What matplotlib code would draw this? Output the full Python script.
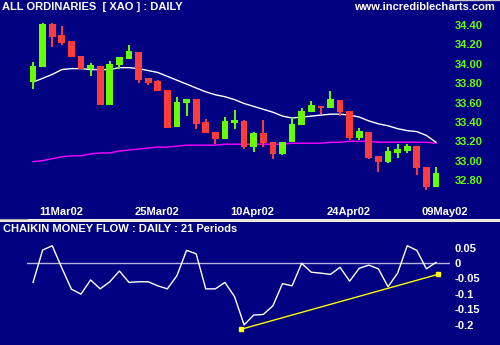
import numpy as np
import matplotlib
matplotlib.use('Agg')
import matplotlib.pyplot as plt
import matplotlib.transforms as mtransforms

# daily OHLC, 7 Mar 2002 .. 9 May 2002 (43 trading days)
opens = [33.81, 33.97, 34.41, 34.30, 34.23, 34.08, 33.95, 33.98, 33.57, 33.99,
         34.05, 34.12, 33.85, 33.82, 33.73, 33.35, 33.60, 33.64, 33.40, 33.30,
         33.22, 33.39, 33.41, 33.14, 33.29, 33.19, 33.07, 33.19, 33.37, 33.50,
         33.56, 33.54, 33.63, 33.51, 33.23, 33.30, 33.05, 32.99, 33.08, 33.10,
         33.15, 32.93, 32.73]
highs = [34.02, 34.42, 34.42, 34.39, 34.24, 34.08, 34.01, 33.98, 34.03, 34.07,
         34.19, 34.12, 33.85, 33.83, 33.73, 33.66, 33.64, 33.64, 33.43, 33.30,
         33.45, 33.52, 33.42, 33.30, 33.42, 33.19, 33.19, 33.45, 33.54, 33.62,
         33.56, 33.72, 33.63, 33.51, 33.34, 33.30, 33.05, 33.14, 33.17, 33.17,
         33.15, 32.93, 32.93]
lows = [33.74, 33.97, 34.17, 34.19, 34.07, 33.95, 33.87, 33.57, 33.57, 33.95,
        34.05, 33.80, 33.78, 33.72, 33.34, 33.35, 33.46, 33.33, 33.29, 33.17,
        33.22, 33.33, 33.12, 33.09, 33.14, 33.02, 33.06, 33.19, 33.37, 33.50,
        33.48, 33.54, 33.46, 33.21, 33.21, 33.02, 32.88, 32.98, 33.03, 33.08,
        32.85, 32.70, 32.73]
closes = [33.98, 34.41, 34.28, 34.21, 34.07, 33.95, 33.99, 33.57, 34.00, 34.07,
          34.13, 33.83, 33.80, 33.72, 33.34, 33.61, 33.64, 33.38, 33.29, 33.22,
          33.41, 33.41, 33.14, 33.29, 33.18, 33.07, 33.19, 33.38, 33.51, 33.57,
          33.54, 33.64, 33.50, 33.23, 33.31, 33.03, 32.99, 33.10, 33.12, 33.15,
          32.92, 32.73, 32.87]

# moving averages
ma_short = [33.81, 33.85, 33.89, 33.94, 33.95, 33.95, 33.94, 33.94, 33.94, 33.96,
            33.96, 33.95, 33.93, 33.91, 33.87, 33.83, 33.79, 33.75, 33.71, 33.68,
            33.66, 33.63, 33.59, 33.56, 33.53, 33.50, 33.46, 33.44, 33.45, 33.46,
            33.47, 33.48, 33.48, 33.47, 33.45, 33.41, 33.38, 33.36, 33.33, 33.31,
            33.30, 33.26, 33.19]
ma_long = [32.99, 33.00, 33.02, 33.04, 33.05, 33.05, 33.07, 33.08, 33.08, 33.10,
           33.11, 33.12, 33.13, 33.14, 33.14, 33.15, 33.16, 33.16, 33.16, 33.16,
           33.17, 33.17, 33.17, 33.17, 33.17, 33.17, 33.17, 33.18, 33.18, 33.18,
           33.18, 33.19, 33.19, 33.20, 33.20, 33.20, 33.19, 33.19, 33.19, 33.19,
           33.19, 33.19, 33.18]

# Chaikin money flow (21 periods)
cmf = [-0.063, 0.042, 0.056, -0.016, -0.085, -0.101, -0.055, -0.084, -0.061, -0.026,
       -0.063, -0.061, -0.061, -0.074, -0.084, -0.041, 0.041, 0.030, -0.084, -0.084,
       -0.063, -0.109, -0.201, -0.169, -0.167, -0.139, -0.067, -0.074, -0.001, -0.030,
       -0.033, -0.037, -0.014, -0.059, -0.017, -0.007, -0.019, -0.077, -0.033, 0.056,
       0.041, -0.019, 0.002]
trend_x = [21.7, 42.2]
trend_y = [-0.215, -0.037]

tick_idx = [2, 12, 22, 32, 42]
tick_labels = ['11Mar02', '25Mar02', '10Apr02', '24Apr02', '09May02']
price_ticks = [32.80, 33.00, 33.20, 33.40, 33.60, 33.80, 34.00, 34.20, 34.40]
cmf_ticks = [0.05, 0, -0.05, -0.1, -0.15, -0.2]
cmf_tick_labels = ['0.05', '0', '-0.05', '-0.1', '-0.15', '-0.2']

bg = '#000080'
up_col = '#66ff00'
down_col = '#ff3c3c'
font = 'Liberation Sans'
fs = 8

fig = plt.figure(figsize=(5, 3.45), dpi=100)
fig.patch.set_facecolor(bg)

x = np.arange(len(closes))
o = np.array(opens)
c = np.array(closes)
colors = [up_col if cc >= oo else down_col for oo, cc in zip(o, c)]

# price panel
ax = fig.add_axes([0.054, 0.4203, 0.846, 0.5797])
ax.set_facecolor(bg)
ax.plot(x, ma_long, color='#ff00ff', lw=1.0, zorder=1)
ax.plot(x, ma_short, color='white', lw=1.0, zorder=1)
ax.vlines(x, lows, highs, colors=colors, lw=1.4, zorder=2)
body_h = np.maximum(np.abs(c - o), 0.025)
ax.bar(x, body_h, bottom=np.minimum(o, c), width=0.7, color=colors, zorder=3)
ax.set_xlim(-0.63, 43.46)
ax.set_ylim(32.594, 34.658)
ax.yaxis.tick_right()
ax.set_yticks(price_ticks)
ax.set_yticklabels(['%.2f' % v for v in price_ticks])
ax.tick_params(axis='y', length=0, pad=3.5, labelcolor=up_col, labelsize=fs)
ax.set_xticks(tick_idx)
ax.set_xticklabels(tick_labels)
ax.tick_params(axis='x', length=0, pad=5, labelcolor='white', labelsize=fs)
shift = mtransforms.ScaledTranslation(0.086, 0, fig.dpi_scale_trans)
for lbl in ax.get_xticklabels():
    lbl.set_transform(lbl.get_transform() + shift)
for lbl in ax.get_xticklabels() + ax.get_yticklabels():
    lbl.set_fontweight('bold')
    lbl.set_family(font)
for s in ax.spines.values():
    s.set_visible(False)

# CMF panel
ax2 = fig.add_axes([0.054, 0.0145, 0.846, 0.2957])
ax2.set_facecolor(bg)
ax2.axhline(0, color='#b4b4e6', lw=1.0, zorder=1)
ax2.plot(x, cmf, color='white', lw=1.0, zorder=2)
ax2.plot(trend_x, trend_y, color='#ffff00', lw=1.0, marker='s', ms=3,
         zorder=3)
ax2.set_xlim(-0.63, 43.46)
ax2.set_ylim(-0.25, 0.0812)
ax2.set_xticks([])
ax2.yaxis.tick_right()
ax2.set_yticks(cmf_ticks)
ax2.set_yticklabels(cmf_tick_labels)
ax2.tick_params(axis='y', length=0, pad=3.5, labelcolor='white', labelsize=fs)
for lbl in ax2.get_yticklabels():
    lbl.set_fontweight('bold')
    lbl.set_family(font)
for s in ax2.spines.values():
    s.set_visible(False)

# titles and separators
fig.text(0.004, 0.98, 'ALL ORDINARIES  [ XAO ] : DAILY', color='white',
         fontsize=fs, fontweight='bold', family=font, va='center', ha='left')
fig.text(0.99, 0.98, 'www.incrediblecharts.com', color='white',
         fontsize=fs, fontweight='bold', family=font, va='center', ha='right')
fig.text(0.006, 0.336, 'CHAIKIN MONEY FLOW : DAILY : 21 Periods', color='white',
         fontsize=fs, fontweight='bold', family=font, va='center', ha='left')
fig.add_artist(plt.Line2D([0, 1], [0.3609, 0.3609], color='#ece9d8', lw=2.2,
                          transform=fig.transFigure))
fig.add_artist(plt.Line2D([0, 0.054], [0.3652, 0.3652], color='#a8a8a8', lw=0.8,
                          transform=fig.transFigure))
fig.add_artist(plt.Line2D([0.9, 1], [0.999, 0.999], color='#c8c8c8', lw=1.0,
                          transform=fig.transFigure))

fig.savefig('out.png', dpi=100, facecolor=bg)
